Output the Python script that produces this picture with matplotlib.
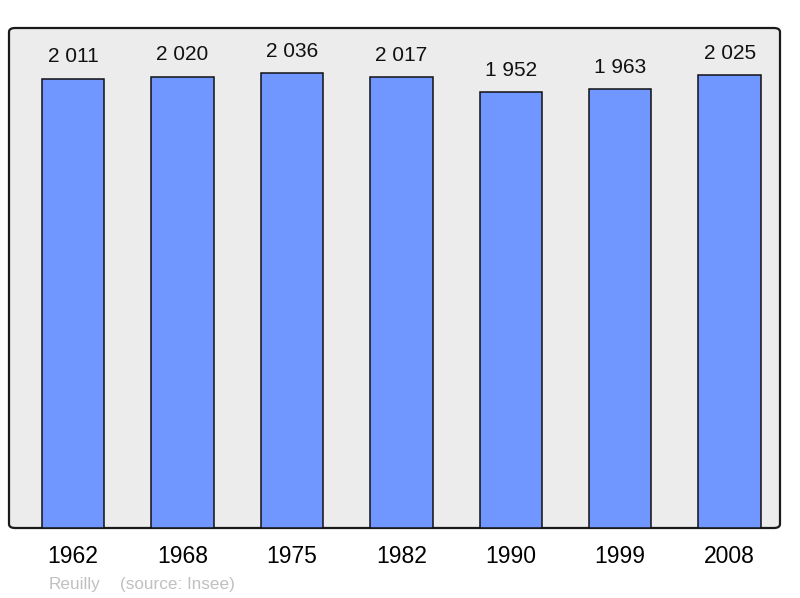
import matplotlib.pyplot as plt
from matplotlib.patches import FancyBboxPatch

years = ['1962', '1968', '1975', '1982', '1990', '1999', '2008']
population = [2011, 2020, 2036, 2017, 1952, 1963, 2025]
labels = ['2 011', '2 020', '2 036', '2 017', '1 952', '1 963', '2 025']

plt.rcParams['font.family'] = ['Liberation Sans', 'DejaVu Sans']

fig = plt.figure(figsize=(8, 5.98), dpi=100)
ax = fig.add_axes([9 / 800, 70 / 598, 771 / 800, 500 / 598])

# rounded frame behind the bars
ax.patch.set_visible(False)
frame = FancyBboxPatch((0, 0), 1, 1, boxstyle='round,pad=0,rounding_size=0.008',
                       transform=ax.transAxes, facecolor='#ececec',
                       edgecolor='#1a1a1a', linewidth=1.6, zorder=0, clip_on=False)
ax.add_patch(frame)

x = range(len(years))
ax.bar(x, population, width=0.57, color='#7096ff', edgecolor='#111111',
       linewidth=1.1, zorder=2)

for xi, v, lab in zip(x, population, labels):
    ax.annotate(lab, (xi, v), xytext=(0, 15.5), textcoords='offset points',
                ha='center', va='center', fontsize=15, color='#111111')

ax.set_xlim(-0.585, 6.46)
ax.set_ylim(0, 2237)
for s in ax.spines.values():
    s.set_visible(False)
ax.set_yticks([])
ax.set_xticks(list(x))
ax.set_xticklabels(years, fontsize=16.5)
ax.tick_params(axis='x', length=0, pad=12.5)

fig.text(49 / 800, 1 - 584 / 598, 'Reuilly', fontsize=12.3, color='#c0c0c0',
         va='center')
fig.text(120 / 800, 1 - 584 / 598, '(source: Insee)', fontsize=12.3,
         color='#c0c0c0', va='center')

fig.savefig('out.png', dpi=100)
